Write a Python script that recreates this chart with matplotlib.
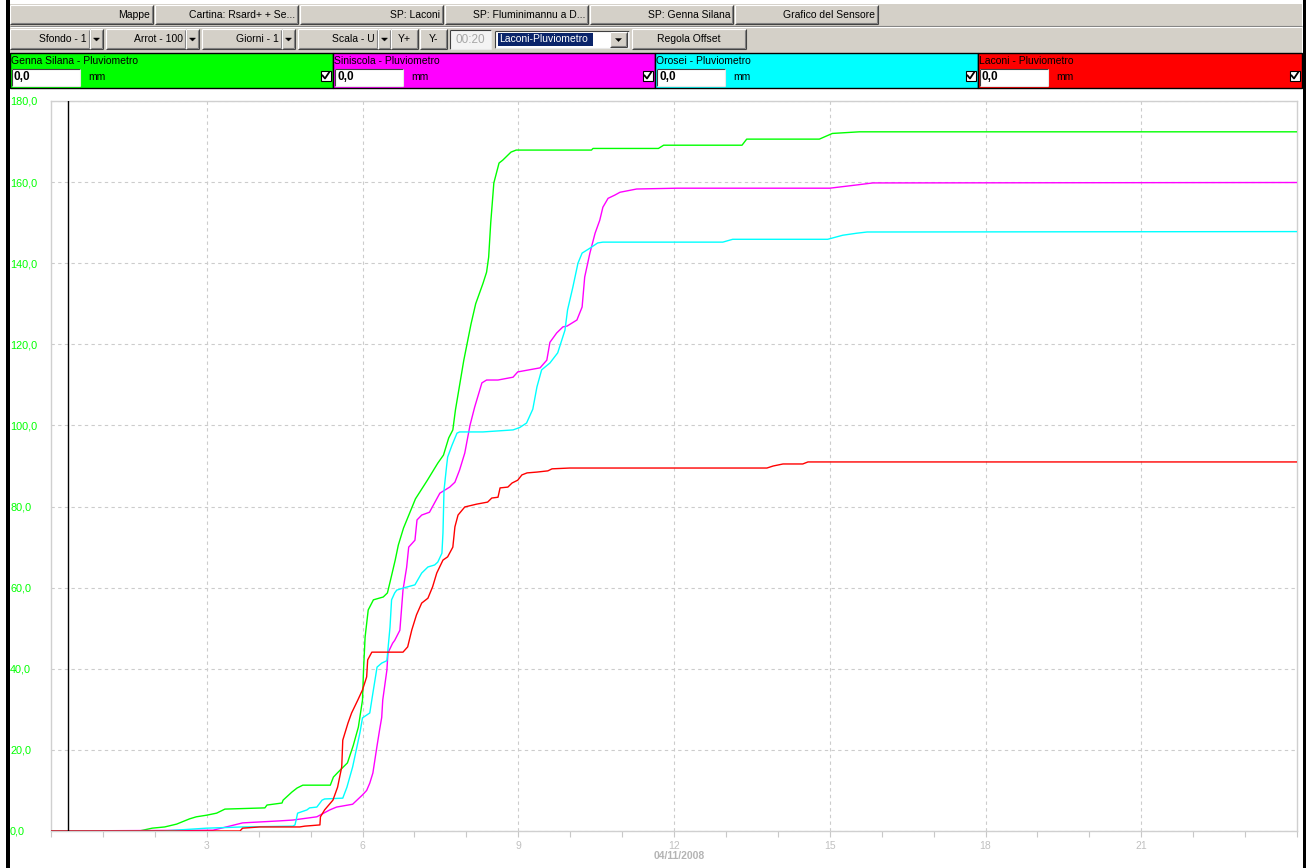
import matplotlib
matplotlib.use('Agg')
import matplotlib.pyplot as plt
from matplotlib.patches import Rectangle, Polygon
from matplotlib.ticker import FuncFormatter, FixedLocator

# cumulative rain (mm) against hour of the day, 04/11/2008
gs_h = [0, 1.70, 1.95, 2.19, 2.42, 2.67, 2.80, 3.00, 3.19, 3.35, 4.12, 4.16, 4.45, 4.47, 4.64, 4.74, 4.85, 5.38, 5.44, 5.53,
        5.71, 5.82, 5.92, 6.00, 6.02, 6.05, 6.11, 6.21, 6.40, 6.48, 6.54, 6.63, 6.69, 6.79, 7.02, 7.25, 7.45, 7.56, 7.66, 7.74,
        7.79, 7.95, 8.09, 8.18, 8.32, 8.39, 8.43, 8.47, 8.53, 8.63, 8.70, 8.86, 8.96, 10.41, 10.44, 11.70, 11.80, 13.31, 13.40, 14.80,
        15.05, 15.57, 24.0]
gs_v = [0, 0, 0.7, 1.0, 1.7, 3.0, 3.5, 3.9, 4.4, 5.4, 5.7, 6.4, 6.9, 7.6, 9.6, 10.6, 11.3, 11.3, 13.3, 14.5,
        16.8, 21.0, 25.6, 32.3, 39.7, 47.8, 54.5, 57.0, 57.7, 58.7, 61.9, 66.8, 70.5, 74.7, 81.9, 86.5, 90.7, 92.7, 96.9, 98.9,
        103.8, 116, 125, 130, 135, 137.8, 141.5, 150, 159.8, 164.7, 165.4, 167.4, 167.9, 167.9, 168.3, 168.3, 169.1, 169.1, 170.6, 170.6,
        172.0, 172.4, 172.4]

si_h = [0, 3.12, 3.44, 3.69, 4.41, 4.66, 5.12, 5.37, 5.50, 5.81, 6.00, 6.08, 6.14, 6.20, 6.28, 6.33, 6.37, 6.39, 6.47, 6.49,
        6.58, 6.62, 6.72, 6.78, 6.85, 6.89, 7.01, 7.05, 7.14, 7.29, 7.49, 7.68, 7.78, 7.87, 7.97, 8.07, 8.16, 8.30, 8.39, 8.61,
        8.90, 8.99, 9.42, 9.55, 9.61, 9.74, 9.86, 9.94, 10.13, 10.23, 10.28, 10.38, 10.48, 10.57, 10.63, 10.73, 10.86, 10.96, 11.28, 12.06,
        15.00, 15.52, 15.83, 24.0]
si_v = [0, 0.2, 1.2, 2.0, 2.5, 2.7, 3.5, 5.2, 5.9, 6.6, 8.9, 10.0, 11.8, 14.3, 21.0, 25.0, 28.0, 32.3, 39.7, 43.9,
        46.3, 47.0, 49.5, 59.4, 65.0, 70.0, 71.7, 76.7, 77.9, 78.6, 83.3, 84.8, 86.0, 89.0, 93.2, 100.0, 104.5, 110.5, 111.2, 111.2,
        111.9, 113.2, 114.2, 116.1, 120.5, 122.8, 124.3, 124.5, 126.0, 129.2, 136.6, 142.5, 147.4, 150.6, 153.8, 156.0, 156.8, 157.5, 158.3, 158.5,
        158.5, 159.3, 159.8, 159.9]

or_h = [0, 2.15, 3.00, 3.69, 4.66, 4.70, 4.73, 4.75, 4.93, 4.98, 5.12, 5.18, 5.22, 5.27, 5.62, 5.70, 5.81, 5.95, 6.00, 6.14,
        6.20, 6.28, 6.37, 6.47, 6.53, 6.56, 6.62, 6.66, 6.81, 7.01, 7.14, 7.26, 7.39, 7.45, 7.53, 7.55, 7.57, 7.62, 7.64, 7.72,
        7.82, 7.87, 8.32, 8.90, 9.03, 9.16, 9.28, 9.36, 9.45, 9.61, 9.76, 9.90, 9.95, 10.05, 10.15, 10.23, 10.38, 10.53, 10.63, 12.94,
        13.13, 14.96, 15.25, 15.52, 15.72, 24.0]
or_v = [0, 0, 0.7, 1.0, 1.2, 1.5, 3.2, 4.4, 5.2, 5.7, 5.9, 6.9, 7.6, 7.9, 8.1, 10.8, 15.8, 24.2, 27.9, 29.1,
        34.0, 40.4, 41.4, 42.0, 50.3, 57.0, 58.7, 59.4, 60.0, 60.7, 63.6, 65.1, 65.6, 66.3, 68.5, 73.5, 84.0, 90.0, 92.2, 95.0,
        98.1, 98.4, 98.4, 98.9, 99.5, 100.6, 104.0, 109.5, 113.7, 115.4, 117.9, 123.5, 128.5, 134.0, 140.0, 142.5, 143.7, 145.0, 145.2, 145.2,
        145.9, 145.9, 146.9, 147.4, 147.7, 147.8]

la_h = [0, 3.64, 3.69, 4.02, 4.79, 4.89, 5.18, 5.19, 5.27, 5.43, 5.52, 5.60, 5.62, 5.72, 5.79, 5.91, 6.00, 6.08, 6.10, 6.18,
        6.78, 6.87, 6.95, 7.04, 7.14, 7.26, 7.35, 7.43, 7.55, 7.64, 7.74, 7.78, 7.84, 7.97, 8.20, 8.41, 8.49, 8.61, 8.65, 8.80,
        8.88, 8.99, 9.07, 9.17, 9.36, 9.57, 9.65, 9.99, 13.79, 13.91, 14.10, 14.48, 14.58, 24.0]
la_v = [0, 0, 0.7, 1.0, 1.0, 1.2, 1.5, 3.5, 5.2, 7.6, 10.8, 15.8, 22.4, 26.6, 29.1, 32.3, 34.8, 38.0, 42.2, 44.1,
        44.1, 45.4, 49.6, 53.3, 56.2, 57.4, 60.2, 63.6, 66.8, 67.6, 70.0, 75.0, 77.9, 79.9, 80.6, 81.1, 82.1, 82.3, 84.6, 84.8,
        85.8, 86.5, 87.8, 88.3, 88.5, 88.8, 89.3, 89.5, 89.5, 90.0, 90.5, 90.5, 91.0, 91.0]

stations = ['Genna Silana - Pluviometro', 'Siniscola - Pluviometro', 'Orosei - Pluviometro', 'Laconi - Pluviometro']
colors = ['#00ff00', '#ff00ff', '#00ffff', '#ff0000']
series = [(gs_h, gs_v), (si_h, si_v), (or_h, or_v), (la_h, la_v)]

top_buttons = ['Mappe', 'Cartina: Rsard+ + Se...', 'SP: Laconi', 'SP: Fluminimannu a D...',
               'SP: Genna Silana', 'Grafico del Sensore']
combos = ['Sfondo - 1', 'Arrot - 100', 'Giorni - 1', 'Scala - U']
date_label = '04/11/2008'
marker_hour = 0.32

plt.rcParams['font.family'] = ['Liberation Sans', 'DejaVu Sans']
FS = 7.5
FACE = '#d4d0c8'

W, H = 1307, 868
fig = plt.figure(figsize=(W / 100, H / 100), dpi=100)
fig.patch.set_facecolor('white')

# screen-pixel overlay for the window furniture
ui = fig.add_axes([0, 0, 1, 1])
ui.set_xlim(0, W)
ui.set_ylim(H, 0)
ui.axis('off')


def box(x0, y0, x1, y1, fc, ec='none', lw=0.0, z=1):
    ui.add_patch(Rectangle((x0, y0), x1 - x0, y1 - y0, facecolor=fc, edgecolor=ec, linewidth=lw, zorder=z))


def line(xs, ys, c, z=3):
    ui.plot(xs, ys, color=c, lw=0.8, solid_capstyle='butt', zorder=z)


def button(x0, y0, x1, y1, label='', align='right', fc=FACE):
    box(x0, y0, x1, y1, fc)
    line([x0, x1], [y0, y0], 'white')
    line([x0, x0], [y0, y1], 'white')
    line([x0, x1], [y1, y1], '#404040')
    line([x1, x1], [y0, y1], '#404040')
    line([x0 + 1, x1 - 1], [y1 - 1, y1 - 1], '#808080')
    line([x1 - 1, x1 - 1], [y0 + 1, y1 - 1], '#808080')
    if label:
        ym = (y0 + y1) / 2
        if align == 'right':
            ui.text(x1 - 3, ym, label, ha='right', va='center', fontsize=FS, color='black', zorder=4)
        else:
            ui.text((x0 + x1) / 2, ym, label, ha='center', va='center', fontsize=FS, color='black', zorder=4)


def arrow_button(x0, y0, x1, y1):
    button(x0, y0, x1, y1)
    cx, cy = (x0 + x1) / 2, (y0 + y1) / 2 + 0.5
    ui.add_patch(Polygon([[cx - 3, cy - 1.5], [cx + 3, cy - 1.5], [cx, cy + 1.5]], closed=True,
                         facecolor='black', edgecolor='black', lw=0.3, zorder=5))


def sunken(x0, y0, x1, y1, fc='white'):
    box(x0, y0, x1, y1, fc)
    line([x0, x1], [y0, y0], '#404040')
    line([x0, x0], [y0, y1], '#404040')
    line([x0, x1], [y1, y1], '#e8e8e8')
    line([x1, x1], [y0, y1], '#e8e8e8')


# toolbar background
box(10, 4, 1302, 53, FACE)
line([10, 1302], [25.5, 25.5], '#808080')
line([10, 1302], [26.5, 26.5], 'white')

# row 1
bx = 10
for lab in top_buttons:
    button(bx, 5, bx + 143, 24, lab)
    bx += 145

# row 2
cx0 = 10
for lab in combos:
    button(cx0, 29, cx0 + 80, 49, lab)
    arrow_button(cx0 + 80, 29, cx0 + 93, 49)
    cx0 += 96
button(391, 29, 418, 49, 'Y+', align='center')
button(420, 29, 447, 49, 'Y-', align='center')
sunken(450, 30, 491, 49, fc='#f4f4f4')
ui.text(470, 40, '00:20', ha='center', va='center', fontsize=8.5, color='#a8a8a8', zorder=4)
sunken(495, 31, 629, 48)
box(498, 33, 593, 46, '#0a246a', z=2)
ui.text(499, 39.5, 'Laconi-Pluviometro', ha='left', va='center', fontsize=FS, color='white', zorder=4)
arrow_button(610, 32, 627, 47)
button(632, 29, 746, 49, 'Regola Offset', align='center')

# station panels
px = [10, 333, 655, 978, 1302]
for i, (name, c) in enumerate(zip(stations, colors)):
    x0, x1 = px[i], px[i + 1]
    box(x0, 53, x1, 88, c, ec='black', lw=1.0, z=1)
    ui.text(x0 + 1, 61, name, ha='left', va='center', fontsize=FS, color='black', zorder=4)
    sunken(x0 + 2, 69, x0 + 70, 86)
    ui.text(x0 + 4, 77.5, '0,0', ha='left', va='center', fontsize=8.5, fontweight='bold', color='black', zorder=4)
    ui.text(x0 + 78, 77, 'mm', ha='left', va='center', fontsize=FS, color='black', zorder=4)
    box(x1 - 12, 71, x1 - 2, 81, 'white', ec='black', lw=0.8, z=3)
    ui.plot([x1 - 10.5, x1 - 8, x1 - 4], [75.5, 78.5, 72.5], color='black', lw=1.3, zorder=5)

# window side borders
box(6, 0, 9.5, H, 'black', z=6)
box(1302.5, 0, 1306, H, 'black', z=6)

# chart
ax = fig.add_axes([51 / W, (H - 831) / H, (1297 - 51) / W, (831 - 101) / H])
ax.set_facecolor('white')
for (h, v), c in zip(series, colors):
    ax.plot(h, v, color=c, lw=1.0, zorder=3)
ax.axvline(marker_hour, color='black', lw=1.0, zorder=4)

ax.set_xlim(0, 24)
ax.set_ylim(0, 180)
ax.xaxis.set_major_locator(FixedLocator(list(range(3, 22, 3))))
ax.xaxis.set_minor_locator(FixedLocator(list(range(0, 25))))
ax.yaxis.set_major_locator(FixedLocator(list(range(0, 181, 20))))
ax.yaxis.set_major_formatter(FuncFormatter(lambda v, p: f'{v:.1f}'.replace('.', ',')))
ax.grid(True, which='major', color='#cccccc', linestyle=(0, (3, 3)), lw=0.8, zorder=1)

for s in ax.spines.values():
    s.set_color('#d0d0d0')
    s.set_linewidth(1.0)

ax.tick_params(axis='x', which='both', direction='out', length=4, width=0.8, color='#c8c8c8',
               labelcolor='#c0c0c0', labelsize=FS, pad=3)
ax.tick_params(axis='y', which='both', length=0, labelcolor='#00ff00', labelsize=7.8, pad=29.5)
for lbl in ax.get_yticklabels():
    lbl.set_horizontalalignment('left')

ui.text(679, 856, date_label, ha='center', va='center', fontsize=FS, fontweight='bold', color='#b4b4b4', zorder=4)

fig.savefig('out.png', dpi=100, facecolor='white')
